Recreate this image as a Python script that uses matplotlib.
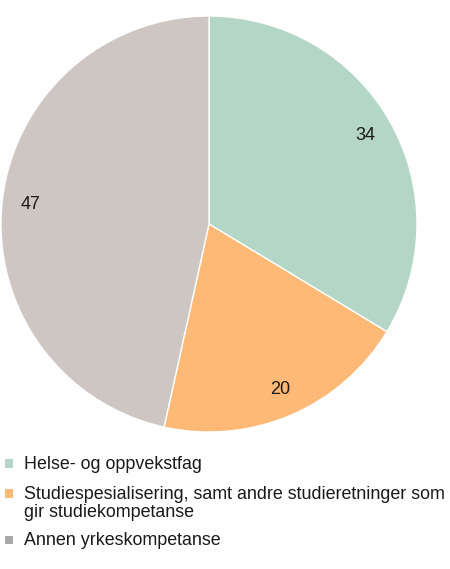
import matplotlib.pyplot as plt
from matplotlib.patches import Rectangle

plt.rcParams['font.family'] = ['Liberation Sans', 'DejaVu Sans']

categories = ["Helse- og oppvekstfag",
              "Studiespesialisering, samt andre studieretninger som\ngir studiekompetanse",
              "Annen yrkeskompetanse"]
values = [34, 20, 47]
slice_colors = ["#b3d6c6", "#fdb975", "#cdc6c2"]
legend_colors = ["#b3d6c6", "#fdb975", "#a9a9a9"]

W, H = 450, 569
fig = plt.figure(figsize=(W/100, H/100), dpi=100)
cx, cy, r = 209, 224, 208
ax = fig.add_axes([(cx-r)/W, (H-cy-r)/H, 2*r/W, 2*r/H])
wedges, texts = ax.pie(values, colors=slice_colors, startangle=90, counterclock=False,
                       labels=[str(v) for v in values], labeldistance=0.864,
                       wedgeprops=dict(edgecolor='white', linewidth=1),
                       textprops=dict(fontsize=13, color='#1a1a1a', ha='center',
                                      va='center'))
ax.set_aspect('equal')
ax.set_xlim(-1, 1)
ax.set_ylim(-1, 1)

# manual legend (pixel layout, top-down)
first_baselines = [469, 499.3, 545.3]
marker_centers = [463.5, 493.5, 540]
line_step = 18
for lab, col, yb, ym in zip(categories, legend_colors, first_baselines, marker_centers):
    fig.patches.append(Rectangle((5/W, 1 - (ym + 4.2)/H), 8.4/W, 8.4/H,
                                 transform=fig.transFigure, facecolor=col,
                                 edgecolor='none'))
    for i, line in enumerate(lab.split("\n")):
        fig.text(24/W, 1 - (yb + i*line_step)/H, line, fontsize=12.85,
                 color='#1a1a1a', ha='left', va='baseline')

fig.savefig('out.png', dpi=100)
